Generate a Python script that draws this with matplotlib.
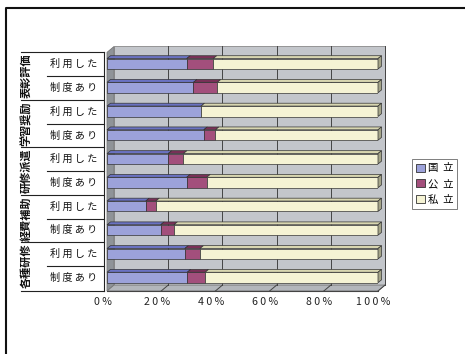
import matplotlib
matplotlib.use("Agg")
import matplotlib.pyplot as plt
from matplotlib.patches import Polygon, Patch
from matplotlib.lines import Line2D
import matplotlib.transforms as mtransforms

plt.rcParams['font.family'] = ['Noto Sans CJK JP', 'DejaVu Sans']

# rows from bottom to top
groups = ['各種研修', '経費補助', '研修派遣', '学習奨励', '表彰評価']
sub_labels = ['制 度 あ り', '利 用 し た']
series = ['国  立', '公  立', '私  立']
kokuritsu = [29.6, 28.7, 19.8, 14.3, 29.4, 22.6, 35.7, 34.7, 31.9, 29.4]
kouritsu = [6.6, 5.6, 4.9, 3.7, 7.4, 5.6, 4.3, 0.0, 8.8, 9.8]
shiritsu = [63.8, 65.7, 75.3, 82.0, 63.2, 71.8, 60.0, 65.3, 59.3, 60.8]
xticks = [0, 20, 40, 60, 80, 100]
xtick_labels = ['0 %', '2 0 %', '4 0 %', '6 0 %', '8 0 %', '1 0 0 %']

front_cols = ['#9ca2da', '#a34f7c', '#f5f3d4']
top_cols = ['#6a72c2', '#7a3058', '#d8d6b0']
side_cols = ['#5a62a8', '#6a2a4c', '#a4a488']
edge = '#333333'

W, H = 465, 354
fig = plt.figure(figsize=(W / 100, H / 100), dpi=100)
fig.patch.set_facecolor('white')

y_lo, y_hi = -0.55, 9.5
ax = fig.add_axes([107 / W, (H - 291) / H, 271 / W, (291 - 52.4) / H])
ax.set_xlim(0, 100)
ax.set_ylim(y_lo, y_hi)
ax.axis('off')

dx, dy = 2.6, 0.25      # wall depth
bdx, bdy = 1.3, 0.12    # bar depth
bh = 0.44

# walls and floor
ax.add_patch(Polygon([(dx, y_lo + dy), (100 + dx, y_lo + dy), (100 + dx, y_hi + dy), (dx, y_hi + dy)],
                     closed=True, facecolor='#c3c6cb', edgecolor='#888888', lw=0.6, clip_on=False, zorder=0))
ax.add_patch(Polygon([(0, y_lo), (dx, y_lo + dy), (dx, y_hi + dy), (0, y_hi)],
                     closed=True, facecolor='#8f9398', edgecolor='#777777', lw=0.6, clip_on=False, zorder=0))
ax.add_patch(Polygon([(0, y_lo), (100, y_lo), (100 + dx, y_lo + dy), (dx, y_lo + dy)],
                     closed=True, facecolor='#b3b6bb', edgecolor='#777777', lw=0.6, clip_on=False, zorder=0))
for t in xticks[1:]:
    ax.plot([t + dx, t + dx], [y_lo + dy, y_hi + dy], color='#444444', lw=0.7, clip_on=False, zorder=1)
    ax.plot([t, t + dx], [y_lo, y_lo + dy], color='#444444', lw=0.7, clip_on=False, zorder=1)
ax.plot([0, 100], [y_lo, y_lo], color='#444444', lw=0.8, clip_on=False, zorder=1)

# stacked bars with 3d faces
rows = list(range(len(kokuritsu)))
yc = [r + 0.02 for r in rows]
vals = [kokuritsu, kouritsu, shiritsu]
for r in reversed(rows):
    left = 0
    for k in range(3):
        v = vals[k][r]
        if v <= 0:
            continue
        ax.barh(yc[r], v, left=left, height=bh, color=front_cols[k], edgecolor=edge, lw=0.5, zorder=3)
        top = yc[r] + bh / 2
        ax.add_patch(Polygon([(left, top), (left + bdx, top + bdy), (left + v + bdx, top + bdy), (left + v, top)],
                             closed=True, facecolor=top_cols[k], edgecolor=edge, lw=0.5, clip_on=False, zorder=3))
        left += v
    bot = yc[r] - bh / 2
    top = yc[r] + bh / 2
    ax.add_patch(Polygon([(left, bot), (left + bdx, bot + bdy), (left + bdx, top + bdy), (left, top)],
                         closed=True, facecolor=side_cols[2], edgecolor=edge, lw=0.5, clip_on=False, zorder=3))

for t, lab in zip(xticks, xtick_labels):
    ax.text(t - 1.6, y_lo - 0.45, lab, ha='center', va='center', fontsize=7.6, color='#222222')

# category table on the left
tr = mtransforms.blended_transform_factory(fig.transFigure, ax.transData)
x_grp, x_sub, x_end = 21 / W, 47 / W, 104 / W
for b in [y_lo, 1.5, 3.5, 5.5, 7.5, y_hi]:
    fig.add_artist(Line2D([x_grp, x_end], [b, b], transform=tr, color='#222222', lw=0.8))
for b in [0.5, 2.5, 4.5, 6.5, 8.5]:
    fig.add_artist(Line2D([x_sub, x_end], [b, b], transform=tr, color='#222222', lw=0.8))
fig.add_artist(Line2D([x_end, x_end], [y_lo, y_hi], transform=tr, color='#222222', lw=0.8))
for r in rows:
    fig.text(74 / W, r, sub_labels[r % 2], transform=tr, ha='center', va='center', fontsize=7.3, color='#111111')
for g, name in enumerate(groups):
    fig.text(26 / W, 2 * g + 0.5, name, transform=tr, ha='center', va='center', rotation=90,
             fontsize=8, fontweight='bold', color='#111111')

# outer frame (left and top edges)
fig.add_artist(Line2D([6 / W, 6 / W, 1], [0, 1 - 8 / H, 1 - 8 / H], transform=fig.transFigure,
                      color='#111111', lw=1.5))

handles = [Patch(facecolor=c, edgecolor='#333333', lw=0.6) for c in front_cols]
leg = fig.legend(handles, series, loc='upper left', bbox_to_anchor=(412 / W, 1 - 159 / H),
                 frameon=True, fancybox=False, edgecolor='#444444', fontsize=7.5,
                 handlelength=0.8, handleheight=0.8, handletextpad=0.3, labelspacing=0.55,
                 borderpad=0.4, borderaxespad=0)
leg.get_frame().set_linewidth(0.6)

fig.savefig('out.png', dpi=100)
